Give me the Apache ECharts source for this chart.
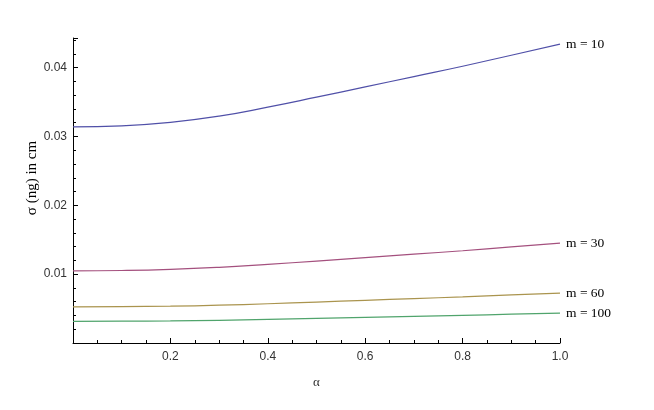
<!DOCTYPE html>
<html>
<head>
<meta charset="utf-8">
<script src="https://cdn.jsdelivr.net/npm/echarts@6/dist/echarts.min.js"></script>
<style>
  html, body { margin: 0; padding: 0; background: #fff; }
  #chart { width: 654px; height: 410px; }
</style>
</head>
<body>
<div id="chart"></div>
<script>
// alpha sample points (x axis)
var alpha = [0, 0.1, 0.2, 0.3, 0.4, 0.5, 0.6, 0.7, 0.8, 0.9, 1.0];

// sigma (ng) in cm
var m10 = [0.0314, 0.03155, 0.03205, 0.03295, 0.03425, 0.0357, 0.0372, 0.0387, 0.0402, 0.0418, 0.0434];
var m30 = [0.01048, 0.01053, 0.01069, 0.01099, 0.01142, 0.0119, 0.0124, 0.0129, 0.0134, 0.01395, 0.0145];
var m60 = [0.00526, 0.00529, 0.00535, 0.00549, 0.0057, 0.00595, 0.0062, 0.00645, 0.0067, 0.00698, 0.00725];
var m100 = [0.00315, 0.00317, 0.00321, 0.0033, 0.00342, 0.00357, 0.00372, 0.00387, 0.00402, 0.00418, 0.00434];

var seriesNames = ["m = 10", "m = 30", "m = 60", "m = 100"];
var seriesData = [m10, m30, m60, m100];
var colors = ["#5050a8", "#a4507e", "#aa944e", "#50a46c"];

var xTicks = [0.2, 0.4, 0.6, 0.8, 1.0];
var yTicks = [0.01, 0.02, 0.03, 0.04];

var chart = echarts.init(document.getElementById("chart"));

function pairs(ys) {
  return alpha.map(function (a, i) { return [a, ys[i]]; });
}

function onTick(list, v) {
  return list.some(function (t) { return Math.abs(t - v) < 1e-9; });
}

var series = seriesData.map(function (ys, i) {
  return {
    name: seriesNames[i],
    type: "line",
    data: pairs(ys),
    smooth: 0.5,
    showSymbol: false,
    lineStyle: { color: colors[i], width: 1.2 },
    endLabel: {
      show: true,
      formatter: seriesNames[i],
      color: "#000",
      fontFamily: "Liberation Serif",
      fontSize: 13.5,
      distance: 6
    },
    silent: true
  };
});

var option = {
  animation: false,
  grid: { left: 73, right: 94, top: 38, bottom: 67 },
  // y axis title sits a bit above the plot middle, like the original
  graphic: [{
    type: "text",
    x: 32,
    y: 178,
    rotation: Math.PI / 2,
    style: {
      text: "σ (ng) in cm",
      font: "15px 'Liberation Serif'",
      fill: "#000",
      align: "center",
      verticalAlign: "middle"
    }
  }],
  xAxis: {
    type: "value",
    min: 0,
    max: 1,
    interval: 0.2,
    name: "α",
    nameLocation: "middle",
    nameGap: 33,
    nameTextStyle: { fontFamily: "Liberation Serif", fontSize: 13, color: "#333" },
    axisLine: { onZero: false, lineStyle: { color: "#000", width: 1 } },
    axisTick: { inside: true, length: 5, lineStyle: { color: "#000" } },
    minorTick: { show: true, splitNumber: 4, length: 3, lineStyle: { color: "#000" } },
    splitLine: { show: false },
    axisLabel: {
      margin: 8,
      color: "#333",
      fontFamily: "Liberation Sans",
      fontSize: 12,
      formatter: function (v) { return onTick(xTicks, v) ? v.toFixed(1) : ""; }
    }
  },
  yAxis: {
    type: "value",
    min: 0,
    max: 0.0443,
    interval: 0.01,
    axisLine: { show: true, lineStyle: { color: "#000", width: 1 } },
    axisTick: { inside: true, length: 5, lineStyle: { color: "#000" } },
    minorTick: { show: true, splitNumber: 5, length: 3, lineStyle: { color: "#000" } },
    splitLine: { show: false },
    axisLabel: {
      margin: 6,
      color: "#333",
      fontFamily: "Liberation Sans",
      fontSize: 12,
      formatter: function (v) { return onTick(yTicks, v) ? v.toFixed(2) : ""; }
    }
  },
  series: series
};

chart.setOption(option);
</script>
</body>
</html>
